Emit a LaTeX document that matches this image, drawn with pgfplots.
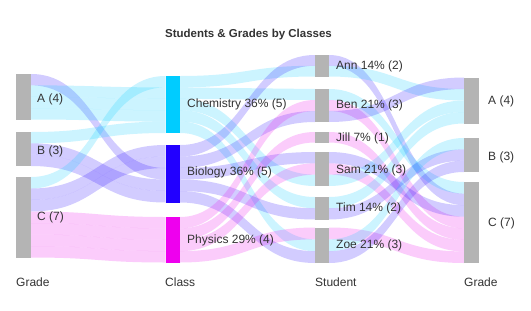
\documentclass[border=0pt]{standalone}
\usepackage{fontspec}
\setmainfont{Liberation Sans}
\usepackage{pgfplots}
\pgfplotsset{compat=1.18}
\definecolor{chem}{RGB}{0,204,255}
\definecolor{bio}{RGB}{34,0,255}
\definecolor{phys}{RGB}{238,0,238}
\definecolor{nodeg}{RGB}{180,180,180}
\definecolor{txt}{RGB}{51,51,51}
% stage 1: Grade -> Class ; stage 2: Class -> Student ; stage 3: Student -> Grade
\newcommand{\bandA}[5]{\fill[#5, fill opacity=0.2] (axis cs:31,#1) .. controls (axis cs:98.25,#1) and (axis cs:98.25,#3) .. (axis cs:165.5,#3) -- (axis cs:165.5,#4) .. controls (axis cs:98.25,#4) and (axis cs:98.25,#2) .. (axis cs:31,#2) -- cycle;}
\newcommand{\bandB}[5]{\fill[#5, fill opacity=0.2] (axis cs:180,#1) .. controls (axis cs:247.5,#1) and (axis cs:247.5,#3) .. (axis cs:315,#3) -- (axis cs:315,#4) .. controls (axis cs:247.5,#4) and (axis cs:247.5,#2) .. (axis cs:180,#2) -- cycle;}
\newcommand{\bandC}[5]{\fill[#5, fill opacity=0.2] (axis cs:329,#1) .. controls (axis cs:396.5,#1) and (axis cs:396.5,#3) .. (axis cs:464,#3) -- (axis cs:464,#4) .. controls (axis cs:396.5,#4) and (axis cs:396.5,#2) .. (axis cs:329,#2) -- cycle;}
\newcommand{\lab}[3]{\node[anchor=west, text=txt, font=\fontsize{12}{14}\selectfont, inner sep=0pt] at (axis cs:#1,#2) {#3};}
\begin{document}
\begin{tikzpicture}
\begin{axis}[width=531pt, height=311pt, scale only axis, xmin=0, xmax=531, ymin=0, ymax=311, y dir=reverse, hide axis, clip=false]
\fill[white] (axis cs:0,0) rectangle (axis cs:531,311);
% ---- stage 1 ----
\bandA{74}{85.375}{168}{179.5}{bio}
\bandA{85.375}{96.75}{87.4}{98.8}{chem}
\bandA{96.75}{108.125}{98.8}{110.2}{chem}
\bandA{108.125}{119.5}{110.2}{121.6}{chem}
\bandA{132}{143.33}{121.6}{133}{chem}
\bandA{143.33}{154.67}{179.5}{191}{bio}
\bandA{154.67}{166}{191}{202.5}{bio}
\bandA{177}{188.5}{76}{87.4}{chem}
\bandA{188.5}{200}{145}{156.5}{bio}
\bandA{200}{211.5}{156.5}{168}{bio}
\bandA{211.5}{223}{217}{228.375}{phys}
\bandA{223}{234.5}{228.375}{239.75}{phys}
\bandA{234.5}{246}{239.75}{251.125}{phys}
\bandA{246}{257.5}{251.125}{262.5}{phys}
% ---- stage 2 ----
\bandB{76}{87.4}{65.75}{76.5}{chem}
\bandB{87.4}{98.8}{89}{100}{chem}
\bandB{98.8}{110.2}{174.67}{186}{chem}
\bandB{110.2}{121.6}{197}{208.25}{chem}
\bandB{121.6}{133}{239.33}{251.17}{chem}
\bandB{145}{156.5}{55}{65.75}{bio}
\bandB{156.5}{168}{111}{122}{bio}
\bandB{168}{179.5}{152}{163.33}{bio}
\bandB{179.5}{191}{208.25}{219.5}{bio}
\bandB{191}{202.5}{251.17}{263}{bio}
\bandB{217}{228.375}{100}{111}{phys}
\bandB{228.375}{239.75}{132}{142.5}{phys}
\bandB{239.75}{251.125}{163.33}{174.67}{phys}
\bandB{251.125}{262.5}{227.5}{239.33}{phys}
% ---- stage 3 ----
\bandC{55}{65.75}{193.57}{205.14}{bio}
\bandC{65.75}{76.5}{89}{100.5}{chem}
\bandC{89}{100}{182}{193.57}{chem}
\bandC{100}{111}{216.71}{228.29}{phys}
\bandC{111}{122}{77.5}{89}{bio}
\bandC{132}{142.5}{228.29}{239.86}{phys}
\bandC{152}{163.33}{205.14}{216.71}{bio}
\bandC{163.33}{174.67}{239.86}{251.43}{phys}
\bandC{174.67}{186}{100.5}{112}{chem}
\bandC{197}{208.25}{112}{123.5}{chem}
\bandC{208.25}{219.5}{149.33}{160.67}{bio}
\bandC{227.5}{239.33}{251.43}{263}{phys}
\bandC{239.33}{251.17}{138}{149.33}{chem}
\bandC{251.17}{263}{160.67}{172}{bio}
% ---- nodes ----
\addplot[fill=nodeg, draw=none] coordinates {(16,74) (31,74) (31,119.5) (16,119.5)} -- cycle;
\addplot[fill=nodeg, draw=none] coordinates {(16,132) (31,132) (31,166) (16,166)} -- cycle;
\addplot[fill=nodeg, draw=none] coordinates {(16,177) (31,177) (31,257.5) (16,257.5)} -- cycle;
\addplot[fill=chem, draw=none] coordinates {(165.5,76) (180,76) (180,133) (165.5,133)} -- cycle;
\addplot[fill=bio, draw=none] coordinates {(165.5,145) (180,145) (180,202.5) (165.5,202.5)} -- cycle;
\addplot[fill=phys, draw=none] coordinates {(165.5,217) (180,217) (180,262.5) (165.5,262.5)} -- cycle;
\addplot[fill=nodeg, draw=none] coordinates {(315,55) (329,55) (329,76.5) (315,76.5)} -- cycle;
\addplot[fill=nodeg, draw=none] coordinates {(315,89) (329,89) (329,122) (315,122)} -- cycle;
\addplot[fill=nodeg, draw=none] coordinates {(315,132) (329,132) (329,142.5) (315,142.5)} -- cycle;
\addplot[fill=nodeg, draw=none] coordinates {(315,152) (329,152) (329,186) (315,186)} -- cycle;
\addplot[fill=nodeg, draw=none] coordinates {(315,197) (329,197) (329,219.5) (315,219.5)} -- cycle;
\addplot[fill=nodeg, draw=none] coordinates {(315,227.5) (329,227.5) (329,263) (315,263)} -- cycle;
\addplot[fill=nodeg, draw=none] coordinates {(464,77.5) (479,77.5) (479,123.5) (464,123.5)} -- cycle;
\addplot[fill=nodeg, draw=none] coordinates {(464,138) (479,138) (479,172) (464,172)} -- cycle;
\addplot[fill=nodeg, draw=none] coordinates {(464,182) (479,182) (479,263) (464,263)} -- cycle;
% ---- labels ----
\lab{37}{99}{A (4)}
\lab{37}{151}{B (3)}
\lab{37}{217.5}{C (7)}
\lab{187}{104.5}{Chemistry 36\% (5)}
\lab{187}{172}{Biology 36\% (5)}
\lab{187}{240.5}{Physics 29\% (4)}
\lab{336}{66.5}{Ann 14\% (2)}
\lab{336}{105.5}{Ben 21\% (3)}
\lab{336}{138.5}{Jill 7\% (1)}
\lab{336}{170}{Sam 21\% (3)}
\lab{336}{208}{Tim 14\% (2)}
\lab{336}{245.5}{Zoe 21\% (3)}
\lab{488}{101.5}{A (4)}
\lab{488}{157}{B (3)}
\lab{488}{223}{C (7)}
\lab{16}{282.5}{Grade}
\lab{165}{282.5}{Class}
\lab{315}{282.5}{Student}
\lab{464}{282.5}{Grade}
\node[text=txt, font=\fontsize{11.5}{14}\selectfont\bfseries, inner sep=0pt] at (axis cs:248.5,35) {Students \& Grades by Classes};
\end{axis}
\end{tikzpicture}
\end{document}
